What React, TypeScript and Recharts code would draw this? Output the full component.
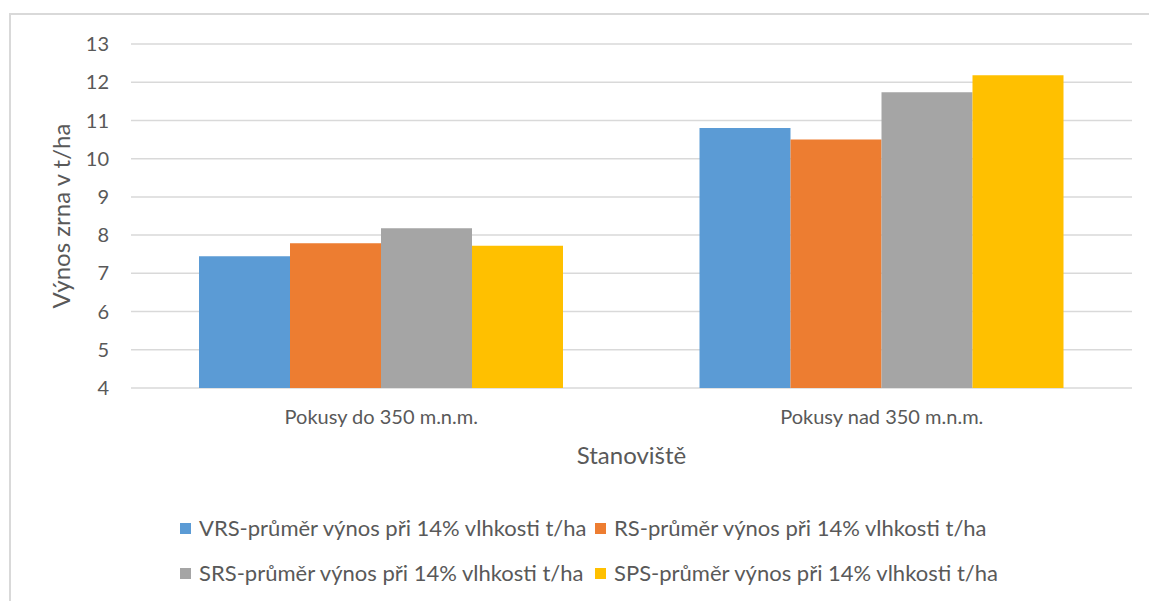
import React from 'react';
import { BarChart, Bar, XAxis, YAxis, CartesianGrid, Legend } from 'recharts';

const categories = ['Pokusy do 350 m.n.m.', 'Pokusy nad 350 m.n.m.'];
const vrsValues = [7.45, 10.8];
const rsValues = [7.79, 10.5];
const srsValues = [8.18, 11.74];
const spsValues = [7.72, 12.18];
const yTicks = [4, 5, 6, 7, 8, 9, 10, 11, 12, 13];

const seriesKeys = ['vrs', 'rs', 'srs', 'sps'];
const seriesNames = [
  'VRS-průměr výnos při 14% vlhkosti t/ha',
  'RS-průměr výnos při 14% vlhkosti t/ha',
  'SRS-průměr výnos při 14% vlhkosti t/ha',
  'SPS-průměr výnos při 14% vlhkosti t/ha',
];
const seriesColors = ['#5b9bd5', '#ed7d31', '#a5a5a5', '#ffc000'];

const FONT = 'Lato, "Open Sans", sans-serif';
const TEXT = '#595959';

const data = categories.map((name, i) => ({
  name,
  vrs: vrsValues[i],
  rs: rsValues[i],
  srs: srsValues[i],
  sps: spsValues[i],
}));

// two rows of two items, like the original legend
const LegendBox = () => (
  <div style={{ height: 80, width: 1149, position: 'relative', fontFamily: FONT, fontSize: 22, color: TEXT }}>
    {seriesNames.map((name, i) => (
      <div
        key={name}
        style={{
          position: 'absolute',
          left: i % 2 === 0 ? 180 : 595,
          top: i < 2 ? 7 : 52,
          display: 'flex',
          alignItems: 'center',
          whiteSpace: 'nowrap',
          lineHeight: '26px',
        }}
      >
        <span style={{ width: 11, height: 11, background: seriesColors[i], display: 'inline-block', marginRight: 8 }} />
        <span>{name}</span>
      </div>
    ))}
  </div>
);

export default function App() {
  return (
    <div style={{ position: 'fixed', left: 0, top: 0, width: 1149, height: 601, background: '#fff', overflow: 'hidden' }}>
      <div style={{ position: 'absolute', left: 9, top: 13, width: 1150, height: 600, border: '2px solid #d9d9d9' }} />
      <BarChart
        width={1149}
        height={601}
        data={data}
        margin={{ top: 44, right: 17, bottom: 33, left: 0 }}
        barCategoryGap={68}
        barGap={0}
        style={{ fontFamily: FONT }}
      >
        <CartesianGrid vertical={false} stroke="#d9d9d9" strokeWidth={1.5} />
        <XAxis
          dataKey="name"
          height={100}
          axisLine={false}
          tickLine={false}
          tickSize={0}
          tickMargin={22}
          tick={{ fill: TEXT, fontSize: 20 }}
          label={{ value: 'Stanoviště', position: 'insideTop', offset: 59, fill: TEXT, fontSize: 24 }}
        />
        <YAxis
          width={131}
          domain={[4, 13]}
          ticks={yTicks}
          axisLine={false}
          tickLine={false}
          tickSize={0}
          tickMargin={22}
          tick={{ fill: TEXT, fontSize: 20 }}
          label={{ value: 'Výnos zrna v t/ha', angle: -90, position: 'center', dx: -4, fill: TEXT, fontSize: 24 }}
        />
        <Legend verticalAlign="bottom" content={() => <LegendBox />} wrapperStyle={{ left: 0, top: 508, width: 1149 }} />
        {seriesKeys.map((k, i) => (
          <Bar key={k} dataKey={k} name={seriesNames[i]} fill={seriesColors[i]} isAnimationActive={false} />
        ))}
      </BarChart>
    </div>
  );
}
